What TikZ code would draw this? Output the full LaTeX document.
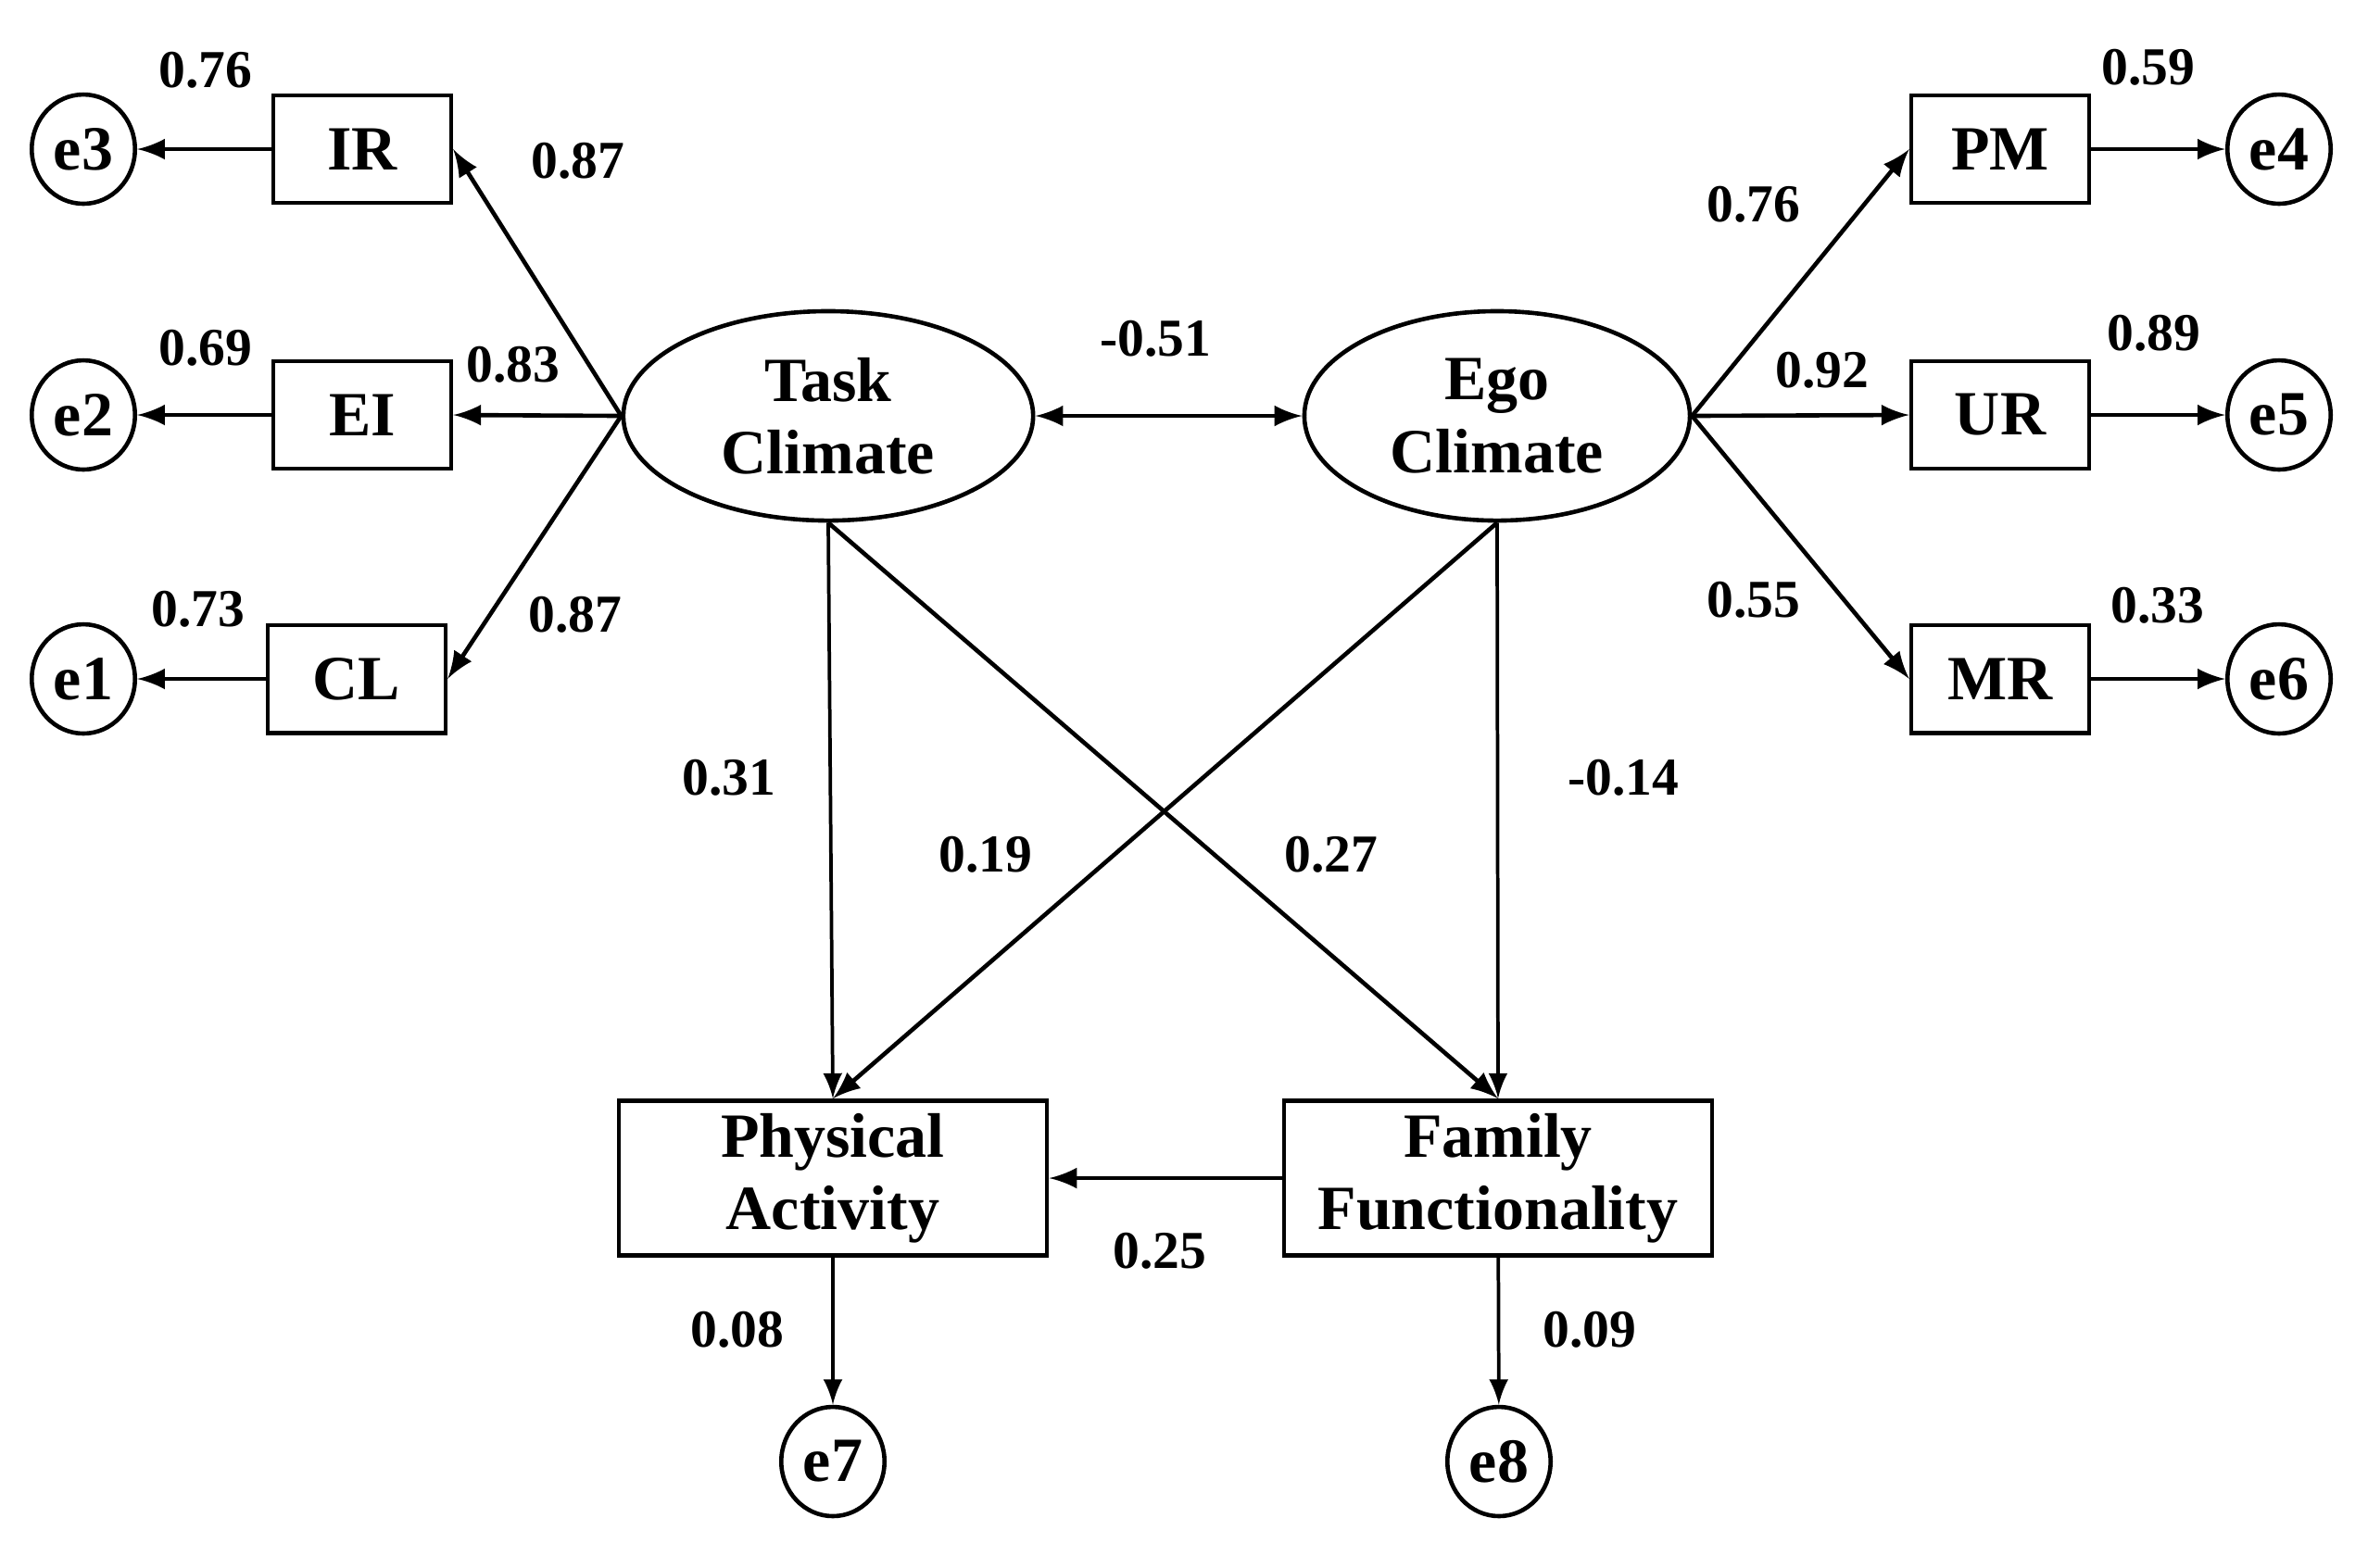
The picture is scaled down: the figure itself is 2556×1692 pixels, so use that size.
\documentclass[tikz,border=0pt]{standalone}
\usepackage{fontspec}
\setmainfont{Liberation Serif}
\usetikzlibrary{shapes.geometric}

\begin{document}
\begin{tikzpicture}[> = latex, x = 0.0061cm, y = -0.0061cm,
	font = \bfseries\fontsize{11.8}{13.6}\selectfont,
	indicator/.style = {draw, line width = 0.8pt, minimum width = 1.17cm, minimum height = 0.71cm, inner sep = 0pt},
	outcome/.style = {draw, line width = 0.8pt, minimum width = 2.82cm, minimum height = 1.02cm, align = center, inner sep = 0pt},
	factor/.style = {draw, ellipse, line width = 0.8pt, minimum height = 1.38cm, align = center, inner sep = 0pt},
	resid/.style = {draw, ellipse, line width = 0.8pt, minimum width = 0.68cm, minimum height = 0.72cm, inner sep = 0pt},
	coef/.style = {font = \bfseries\fontsize{10}{12}\selectfont, inner sep = 0pt}]
	
	\useasboundingbox (0, 0) rectangle (2556, 1692);
	
	% Latent climates
	
	\node [factor, minimum width = 2.70cm] (task) at (894, 449) {Task\\Climate};
	\node [factor, minimum width = 2.54cm] (ego) at (1616, 449) {Ego\\Climate};
	
	% Indicators and their errors
	
	\node [indicator] (IR) at (391, 161) {IR};
	\node [indicator] (EI) at (391, 448) {EI};
	\node [indicator] (CL) at (385, 733) {CL};
	\node [indicator] (PM) at (2159, 161) {PM};
	\node [indicator] (UR) at (2159, 448) {UR};
	\node [indicator] (MR) at (2159, 733) {MR};
	
	\node [resid] (e3) at (90, 161) {e3};
	\node [resid] (e2) at (90, 448) {e2};
	\node [resid] (e1) at (90, 733) {e1};
	\node [resid] (e4) at (2460, 161) {e4};
	\node [resid] (e5) at (2460, 448) {e5};
	\node [resid] (e6) at (2460, 733) {e6};
	
	% Outcomes and their errors
	
	\node [outcome] (PA) at (899, 1272) {Physical\\Activity};
	\node [outcome] (FF) at (1617, 1272) {Family\\Functionality};
	
	\node [resid] (e7) at (899, 1578) {e7};
	\node [resid] (e8) at (1618, 1578) {e8};
	
	% Loadings
	
	\begin{scope}[->, line width = 0.8pt]
	
		\draw (task.west) -- (IR.east);
		\draw (task.west) -- (EI.east);
		\draw (task.west) -- (CL.east);
		\draw (ego.east) -- (PM.west);
		\draw (ego.east) -- (UR.west);
		\draw (ego.east) -- (MR.west);
		
		\draw (IR) -- (e3);
		\draw (EI) -- (e2);
		\draw (CL) -- (e1);
		\draw (PM) -- (e4);
		\draw (UR) -- (e5);
		\draw (MR) -- (e6);
		
		\draw [<->] (task) -- (ego);
		\draw (FF) -- (PA);
		
		% Cross paths
		
		\draw (task.south) -- (FF.north);
		\draw (ego.south) -- (PA.north);
		
	\end{scope}
	
	% Straight paths
	
	\begin{scope}[->, line width = 0.65pt]
	
		\draw (task.south) -- (PA.north);
		\draw (ego.south) -- (FF.north);
		\draw (PA) -- (e7);
		\draw (FF) -- (e8);
		
	\end{scope}
	
	% Estimates
	
	\node [coef] (vIR) at (222, 76) {0.76};
	\node [coef] (vEI) at (222, 376) {0.69};
	\node [coef] (vCL) at (214, 658) {0.73};
	\node [coef] (lIR) at (624, 174) {0.87};
	\node [coef] (lEI) at (554, 394) {0.83};
	\node [coef] (lCL) at (621, 664) {0.87};
	
	\node [coef] (vPM) at (2319, 73) {0.59};
	\node [coef] (vUR) at (2325, 360) {0.89};
	\node [coef] (vMR) at (2329, 654) {0.33};
	\node [coef] (lPM) at (1893, 221) {0.76};
	\node [coef] (lUR) at (1967, 400) {0.92};
	\node [coef] (lMR) at (1893, 648) {0.55};
	
	\node [coef] (corr) at (1247, 366) {-0.51};
	\node [coef] (bTP) at (787, 840) {0.31};
	\node [coef] (bEP) at (1064, 923) {0.19};
	\node [coef] (bTF) at (1437, 923) {0.27};
	\node [coef] (bEF) at (1752, 840) {-0.14};
	\node [coef] (bFP) at (1252, 1351) {0.25};
	\node [coef] (vPA) at (796, 1436) {0.08};
	\node [coef] (vFF) at (1716, 1436) {0.09};

\end{tikzpicture}
\end{document}
